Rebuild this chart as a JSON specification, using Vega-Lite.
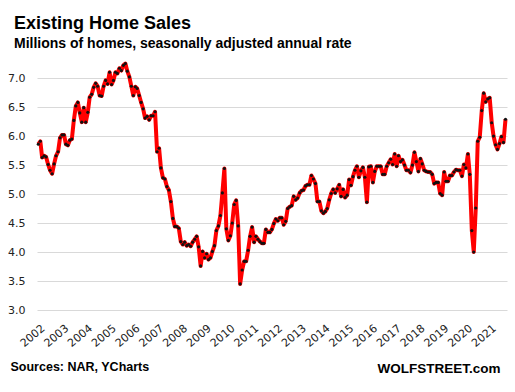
{
  "$schema": "https://vega.github.io/schema/vega-lite/v6.json",
  "width": 470,
  "height": 258,
  "autosize": {"type": "none"},
  "padding": {"left": 37, "top": 52, "right": 8, "bottom": 82},
  "background": "white",
  "title": {
    "text": "Existing Home Sales",
    "subtitle": "Millions of homes, seasonally adjusted annual rate",
    "anchor": "start",
    "frame": "group",
    "dx": -23,
    "offset": 1,
    "font": "Liberation Sans",
    "fontSize": 18,
    "fontWeight": "bold",
    "color": "#000000",
    "subtitleFont": "Liberation Sans",
    "subtitleFontSize": 14,
    "subtitleFontWeight": "bold",
    "subtitleColor": "#000000",
    "subtitlePadding": 4
  },
  "config": {"view": {"stroke": null}},
  "data": {
    "values": [
      {"d": "2002-01-01", "v": 5.86}, {"d": "2002-02-01", "v": 5.91}, {"d": "2002-03-01", "v": 5.63}, {"d": "2002-04-01", "v": 5.66}, {"d": "2002-05-01", "v": 5.64}, {"d": "2002-06-01", "v": 5.51}, {"d": "2002-07-01", "v": 5.41}, {"d": "2002-08-01", "v": 5.35}, {"d": "2002-09-01", "v": 5.52}, {"d": "2002-10-01", "v": 5.66}, {"d": "2002-11-01", "v": 5.73}, {"d": "2002-12-01", "v": 5.97},
      {"d": "2003-01-01", "v": 6.02}, {"d": "2003-02-01", "v": 6.02}, {"d": "2003-03-01", "v": 5.86}, {"d": "2003-04-01", "v": 5.84}, {"d": "2003-05-01", "v": 5.93}, {"d": "2003-06-01", "v": 5.95}, {"d": "2003-07-01", "v": 6.27}, {"d": "2003-08-01", "v": 6.52}, {"d": "2003-09-01", "v": 6.58}, {"d": "2003-10-01", "v": 6.40}, {"d": "2003-11-01", "v": 6.24}, {"d": "2003-12-01", "v": 6.49},
      {"d": "2004-01-01", "v": 6.24}, {"d": "2004-02-01", "v": 6.41}, {"d": "2004-03-01", "v": 6.67}, {"d": "2004-04-01", "v": 6.72}, {"d": "2004-05-01", "v": 6.84}, {"d": "2004-06-01", "v": 6.91}, {"d": "2004-07-01", "v": 6.86}, {"d": "2004-08-01", "v": 6.70}, {"d": "2004-09-01", "v": 6.69}, {"d": "2004-10-01", "v": 6.86}, {"d": "2004-11-01", "v": 6.96}, {"d": "2004-12-01", "v": 6.90},
      {"d": "2005-01-01", "v": 7.10}, {"d": "2005-02-01", "v": 6.89}, {"d": "2005-03-01", "v": 6.96}, {"d": "2005-04-01", "v": 7.10}, {"d": "2005-05-01", "v": 7.08}, {"d": "2005-06-01", "v": 7.17}, {"d": "2005-07-01", "v": 7.13}, {"d": "2005-08-01", "v": 7.22}, {"d": "2005-09-01", "v": 7.25}, {"d": "2005-10-01", "v": 7.12}, {"d": "2005-11-01", "v": 7.02}, {"d": "2005-12-01", "v": 6.86},
      {"d": "2006-01-01", "v": 6.70}, {"d": "2006-02-01", "v": 6.85}, {"d": "2006-03-01", "v": 6.82}, {"d": "2006-04-01", "v": 6.70}, {"d": "2006-05-01", "v": 6.58}, {"d": "2006-06-01", "v": 6.47}, {"d": "2006-07-01", "v": 6.31}, {"d": "2006-08-01", "v": 6.34}, {"d": "2006-09-01", "v": 6.28}, {"d": "2006-10-01", "v": 6.35}, {"d": "2006-11-01", "v": 6.35}, {"d": "2006-12-01", "v": 6.42},
      {"d": "2007-01-01", "v": 5.73}, {"d": "2007-02-01", "v": 5.79}, {"d": "2007-03-01", "v": 5.45}, {"d": "2007-04-01", "v": 5.28}, {"d": "2007-05-01", "v": 5.26}, {"d": "2007-06-01", "v": 5.13}, {"d": "2007-07-01", "v": 5.07}, {"d": "2007-08-01", "v": 4.87}, {"d": "2007-09-01", "v": 4.58}, {"d": "2007-10-01", "v": 4.44}, {"d": "2007-11-01", "v": 4.44}, {"d": "2007-12-01", "v": 4.41},
      {"d": "2008-01-01", "v": 4.18}, {"d": "2008-02-01", "v": 4.13}, {"d": "2008-03-01", "v": 4.17}, {"d": "2008-04-01", "v": 4.11}, {"d": "2008-05-01", "v": 4.13}, {"d": "2008-06-01", "v": 4.10}, {"d": "2008-07-01", "v": 4.17}, {"d": "2008-08-01", "v": 4.22}, {"d": "2008-09-01", "v": 4.27}, {"d": "2008-10-01", "v": 4.09}, {"d": "2008-11-01", "v": 3.76}, {"d": "2008-12-01", "v": 4.01},
      {"d": "2009-01-01", "v": 3.90}, {"d": "2009-02-01", "v": 3.97}, {"d": "2009-03-01", "v": 3.87}, {"d": "2009-04-01", "v": 3.90}, {"d": "2009-05-01", "v": 4.01}, {"d": "2009-06-01", "v": 4.11}, {"d": "2009-07-01", "v": 4.37}, {"d": "2009-08-01", "v": 4.45}, {"d": "2009-09-01", "v": 4.63}, {"d": "2009-10-01", "v": 5.02}, {"d": "2009-11-01", "v": 5.44}, {"d": "2009-12-01", "v": 4.40},
      {"d": "2010-01-01", "v": 4.20}, {"d": "2010-02-01", "v": 4.28}, {"d": "2010-03-01", "v": 4.50}, {"d": "2010-04-01", "v": 4.82}, {"d": "2010-05-01", "v": 4.89}, {"d": "2010-06-01", "v": 4.45}, {"d": "2010-07-01", "v": 3.45}, {"d": "2010-08-01", "v": 3.69}, {"d": "2010-09-01", "v": 3.84}, {"d": "2010-10-01", "v": 3.84}, {"d": "2010-11-01", "v": 4.03}, {"d": "2010-12-01", "v": 4.27},
      {"d": "2011-01-01", "v": 4.43}, {"d": "2011-02-01", "v": 4.17}, {"d": "2011-03-01", "v": 4.27}, {"d": "2011-04-01", "v": 4.22}, {"d": "2011-05-01", "v": 4.18}, {"d": "2011-06-01", "v": 4.15}, {"d": "2011-07-01", "v": 4.15}, {"d": "2011-08-01", "v": 4.39}, {"d": "2011-09-01", "v": 4.34}, {"d": "2011-10-01", "v": 4.34}, {"d": "2011-11-01", "v": 4.39}, {"d": "2011-12-01", "v": 4.49},
      {"d": "2012-01-01", "v": 4.57}, {"d": "2012-02-01", "v": 4.54}, {"d": "2012-03-01", "v": 4.59}, {"d": "2012-04-01", "v": 4.59}, {"d": "2012-05-01", "v": 4.47}, {"d": "2012-06-01", "v": 4.53}, {"d": "2012-07-01", "v": 4.75}, {"d": "2012-08-01", "v": 4.78}, {"d": "2012-09-01", "v": 4.80}, {"d": "2012-10-01", "v": 4.96}, {"d": "2012-11-01", "v": 4.90}, {"d": "2012-12-01", "v": 4.93},
      {"d": "2013-01-01", "v": 5.02}, {"d": "2013-02-01", "v": 5.06}, {"d": "2013-03-01", "v": 5.07}, {"d": "2013-04-01", "v": 5.14}, {"d": "2013-05-01", "v": 5.16}, {"d": "2013-06-01", "v": 5.16}, {"d": "2013-07-01", "v": 5.32}, {"d": "2013-08-01", "v": 5.26}, {"d": "2013-09-01", "v": 5.18}, {"d": "2013-10-01", "v": 4.87}, {"d": "2013-11-01", "v": 4.87}, {"d": "2013-12-01", "v": 4.71},
      {"d": "2014-01-01", "v": 4.67}, {"d": "2014-02-01", "v": 4.70}, {"d": "2014-03-01", "v": 4.75}, {"d": "2014-04-01", "v": 4.90}, {"d": "2014-05-01", "v": 5.01}, {"d": "2014-06-01", "v": 5.08}, {"d": "2014-07-01", "v": 5.02}, {"d": "2014-08-01", "v": 5.09}, {"d": "2014-09-01", "v": 5.16}, {"d": "2014-10-01", "v": 4.96}, {"d": "2014-11-01", "v": 5.08}, {"d": "2014-12-01", "v": 4.94},
      {"d": "2015-01-01", "v": 4.98}, {"d": "2015-02-01", "v": 5.25}, {"d": "2015-03-01", "v": 5.15}, {"d": "2015-04-01", "v": 5.30}, {"d": "2015-05-01", "v": 5.41}, {"d": "2015-06-01", "v": 5.48}, {"d": "2015-07-01", "v": 5.29}, {"d": "2015-08-01", "v": 5.40}, {"d": "2015-09-01", "v": 5.46}, {"d": "2015-10-01", "v": 5.29}, {"d": "2015-11-01", "v": 4.86}, {"d": "2015-12-01", "v": 5.47},
      {"d": "2016-01-01", "v": 5.48}, {"d": "2016-02-01", "v": 5.20}, {"d": "2016-03-01", "v": 5.39}, {"d": "2016-04-01", "v": 5.48}, {"d": "2016-05-01", "v": 5.48}, {"d": "2016-06-01", "v": 5.48}, {"d": "2016-07-01", "v": 5.34}, {"d": "2016-08-01", "v": 5.34}, {"d": "2016-09-01", "v": 5.48}, {"d": "2016-10-01", "v": 5.54}, {"d": "2016-11-01", "v": 5.60}, {"d": "2016-12-01", "v": 5.51},
      {"d": "2017-01-01", "v": 5.69}, {"d": "2017-02-01", "v": 5.48}, {"d": "2017-03-01", "v": 5.66}, {"d": "2017-04-01", "v": 5.56}, {"d": "2017-05-01", "v": 5.59}, {"d": "2017-06-01", "v": 5.50}, {"d": "2017-07-01", "v": 5.41}, {"d": "2017-08-01", "v": 5.41}, {"d": "2017-09-01", "v": 5.37}, {"d": "2017-10-01", "v": 5.50}, {"d": "2017-11-01", "v": 5.72}, {"d": "2017-12-01", "v": 5.56},
      {"d": "2018-01-01", "v": 5.39}, {"d": "2018-02-01", "v": 5.61}, {"d": "2018-03-01", "v": 5.52}, {"d": "2018-04-01", "v": 5.41}, {"d": "2018-05-01", "v": 5.39}, {"d": "2018-06-01", "v": 5.38}, {"d": "2018-07-01", "v": 5.38}, {"d": "2018-08-01", "v": 5.34}, {"d": "2018-09-01", "v": 5.18}, {"d": "2018-10-01", "v": 5.20}, {"d": "2018-11-01", "v": 5.20}, {"d": "2018-12-01", "v": 5.01},
      {"d": "2019-01-01", "v": 4.98}, {"d": "2019-02-01", "v": 5.38}, {"d": "2019-03-01", "v": 5.22}, {"d": "2019-04-01", "v": 5.22}, {"d": "2019-05-01", "v": 5.32}, {"d": "2019-06-01", "v": 5.32}, {"d": "2019-07-01", "v": 5.38}, {"d": "2019-08-01", "v": 5.42}, {"d": "2019-09-01", "v": 5.41}, {"d": "2019-10-01", "v": 5.41}, {"d": "2019-11-01", "v": 5.31}, {"d": "2019-12-01", "v": 5.51},
      {"d": "2020-01-01", "v": 5.45}, {"d": "2020-02-01", "v": 5.69}, {"d": "2020-03-01", "v": 5.34}, {"d": "2020-04-01", "v": 4.37}, {"d": "2020-05-01", "v": 4.00}, {"d": "2020-06-01", "v": 4.76}, {"d": "2020-07-01", "v": 5.91}, {"d": "2020-08-01", "v": 5.98}, {"d": "2020-09-01", "v": 6.44}, {"d": "2020-10-01", "v": 6.74}, {"d": "2020-11-01", "v": 6.59}, {"d": "2020-12-01", "v": 6.64},
      {"d": "2021-01-01", "v": 6.66}, {"d": "2021-02-01", "v": 6.23}, {"d": "2021-03-01", "v": 6.00}, {"d": "2021-04-01", "v": 5.85}, {"d": "2021-05-01", "v": 5.77}, {"d": "2021-06-01", "v": 5.87}, {"d": "2021-07-01", "v": 5.99}, {"d": "2021-08-01", "v": 5.89}, {"d": "2021-09-01", "v": 6.29}
    ]
  },
  "encoding": {
    "x": {
      "field": "d",
      "type": "temporal",
      "scale": {
        "type": "utc",
        "domain": [
          {"year": 2001, "month": 12, "date": 12, "utc": true},
          {"year": 2021, "month": 9, "date": 24, "utc": true}
        ]
      },
      "axis": {
        "values": [
          {"year": 2002, "month": 1, "date": 1, "utc": true}, {"year": 2003, "month": 1, "date": 1, "utc": true},
          {"year": 2004, "month": 1, "date": 1, "utc": true}, {"year": 2005, "month": 1, "date": 1, "utc": true},
          {"year": 2006, "month": 1, "date": 1, "utc": true}, {"year": 2007, "month": 1, "date": 1, "utc": true},
          {"year": 2008, "month": 1, "date": 1, "utc": true}, {"year": 2009, "month": 1, "date": 1, "utc": true},
          {"year": 2010, "month": 1, "date": 1, "utc": true}, {"year": 2011, "month": 1, "date": 1, "utc": true},
          {"year": 2012, "month": 1, "date": 1, "utc": true}, {"year": 2013, "month": 1, "date": 1, "utc": true},
          {"year": 2014, "month": 1, "date": 1, "utc": true}, {"year": 2015, "month": 1, "date": 1, "utc": true},
          {"year": 2016, "month": 1, "date": 1, "utc": true}, {"year": 2017, "month": 1, "date": 1, "utc": true},
          {"year": 2018, "month": 1, "date": 1, "utc": true}, {"year": 2019, "month": 1, "date": 1, "utc": true},
          {"year": 2020, "month": 1, "date": 1, "utc": true}, {"year": 2021, "month": 1, "date": 1, "utc": true}
        ],
        "format": "%Y",
        "labelAngle": -40,
        "labelAlign": "right",
        "labelBaseline": "top",
        "labelPadding": 12,
        "labelOffset": 1,
        "labelOverlap": false,
        "labelBound": false,
        "labelFlush": false,
        "labelFont": "DejaVu Sans",
        "labelFontSize": 11,
        "labelColor": "#222222",
        "ticks": false,
        "domain": false,
        "grid": false,
        "title": "WOLFSTREET.com",
        "titleAnchor": "end",
        "titleAlign": "right",
        "titleBaseline": "alphabetic",
        "titleX": 463,
        "titleY": 62,
        "titleFont": "Liberation Sans",
        "titleFontSize": 13.5,
        "titleFontWeight": "bold",
        "titleColor": "#000000"
      }
    },
    "y": {
      "field": "v",
      "type": "quantitative",
      "scale": {"domain": [3, 7.45], "nice": false, "zero": false},
      "axis": {
        "values": [3, 3.5, 4, 4.5, 5, 5.5, 6, 6.5, 7],
        "format": ".1f",
        "grid": true,
        "gridColor": "#d9d9d9",
        "gridWidth": 1,
        "ticks": false,
        "domain": false,
        "labelPadding": 12,
        "labelFont": "DejaVu Sans",
        "labelFontSize": 11,
        "labelColor": "#222222",
        "title": "Sources: NAR, YCharts",
        "titleAngle": 0,
        "titleAlign": "left",
        "titleBaseline": "alphabetic",
        "titleX": -27,
        "titleY": 318,
        "titleFont": "Liberation Sans",
        "titleFontSize": 12.5,
        "titleFontWeight": "bold",
        "titleColor": "#000000"
      }
    }
  },
  "layer": [
    {"mark": {"type": "line", "color": "#ff0000", "strokeWidth": 4, "strokeJoin": "round"}},
    {"mark": {"type": "point", "filled": true, "color": "#111111", "size": 10, "opacity": 1}}
  ]
}
